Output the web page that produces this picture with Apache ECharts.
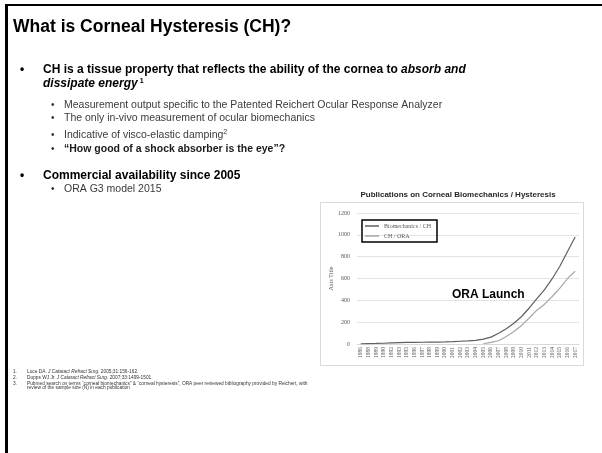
<!DOCTYPE html>
<html>
<head>
<meta charset="utf-8">
<script src="https://cdn.jsdelivr.net/npm/echarts@6/dist/echarts.min.js"></script>
<style>
  html, body { margin: 0; padding: 0; background: #fff; }
  #slide { width: 602px; height: 453px; }
</style>
</head>
<body>
<div id="slide"></div>
<script>
// publication counts
var years = ['1986','1988','1989','1990','1992','1993','1995','1996','1997','1998','1999','2000','2001','2002','2003',
    '2004','2005','2006','2007','2008','2009','2010','2011','2012','2013','2014','2015','2016','2017'];
var biomechCH = [2,4,5,7,10,12,14,15,16,17,18,19,21,25,28,33,45,63,98,140,190,252,330,415,498,598,712,848,980];
var chORA = [null,null,null,null,null,null,null,null,null,null,null,null,null,null,null,null,
    2,15,30,68,115,170,238,310,365,435,512,600,668];
var seriesNames = ['Biomechanics / CH', 'CH / ORA'];
var yTicks = {min: 0, max: 1200, step: 200};

var FONT = '"Liberation Sans", Arial, sans-serif';
var CHART_FONT = '"Liberation Serif", serif';

var myChart = echarts.init(document.getElementById('slide'));

// slide texts
var graphics = [
    {type: 'rect', shape: {x: 5, y: 4, width: 3, height: 449}, style: {fill: '#000'}},
    {type: 'rect', shape: {x: 5, y: 4, width: 597, height: 2}, style: {fill: '#000'}},
    {type: 'rect', shape: {x: 320.5, y: 202.5, width: 263, height: 163}, style: {fill: 'none', stroke: '#d9d9d9', lineWidth: 1}},
    {type: 'text', x: 13, y: 27, style: {text: 'What is Corneal Hysteresis (CH)?', font: 'bold 17.5px ' + FONT, fill: '#000', verticalAlign: 'middle'}},

    {type: 'text', x: 20, y: 69.5, style: {text: '•', font: 'bold 12px ' + FONT, fill: '#000', verticalAlign: 'middle'}},
    {type: 'text', x: 43, y: 69.5, style: {
        text: '{b|CH is a tissue property that reflects the ability of the cornea to }{bi|absorb and}',
        verticalAlign: 'middle',
        rich: {
            b: {font: 'bold 12px ' + FONT, fill: '#000'},
            bi: {font: 'italic bold 12px ' + FONT, fill: '#000'}
        }
    }},
    {type: 'text', x: 43, y: 84, style: {
        text: '{bi|dissipate energy}{sup|1}',
        verticalAlign: 'middle',
        rich: {
            bi: {font: 'italic bold 12px ' + FONT, fill: '#000'},
            sup: {font: 'bold 7px ' + FONT, fill: '#000', verticalAlign: 'top', padding: [0, 0, 6, 2]}
        }
    }},

    {type: 'text', x: 43, y: 175.5, style: {text: 'Commercial availability since 2005', font: 'bold 12px ' + FONT, fill: '#000', verticalAlign: 'middle'}},
    {type: 'text', x: 20, y: 175.5, style: {text: '•', font: 'bold 12px ' + FONT, fill: '#000', verticalAlign: 'middle'}},

    {type: 'text', x: 452, y: 295, style: {text: 'ORA Launch', font: 'bold 12px ' + FONT, fill: '#000', verticalAlign: 'middle'}}
];

var subBullets = [
    {y: 105.5, text: '{r|Measurement output specific to the Patented Reichert Ocular Response Analyzer}'},
    {y: 118.5, text: '{r|The only in-vivo measurement of ocular biomechanics}'},
    {y: 135, text: '{r|Indicative of visco-elastic damping}{sup|2}'},
    {y: 149.5, text: '{b|\u201cHow good of a shock absorber is the eye\u201d?}'},
    {y: 189, text: '{r|ORA G3 model 2015}'}
];
subBullets.forEach(function (item) {
    graphics.push({type: 'text', x: 51, y: item.y, style: {text: '•', font: '10px ' + FONT, fill: '#333', verticalAlign: 'middle'}});
    graphics.push({type: 'text', x: 64, y: item.y, style: {
        text: item.text,
        verticalAlign: 'middle',
        rich: {
            r: {font: '10.5px ' + FONT, fill: '#3a3a3a'},
            b: {font: 'bold 10.5px ' + FONT, fill: '#1a1a1a'},
            sup: {font: '7px ' + FONT, fill: '#3a3a3a', verticalAlign: 'top', padding: [0, 0, 5, 0]}
        }
    }});
});

var footnotes = [
    {y: 372, num: '1.', text: '{r|Luce DA. }{i|J Cataract Refract Surg.}{r| 2005;31:156-162.}'},
    {y: 378, num: '2.', text: '{r|Dupps WJ Jr. }{i|J Cataract Refract Surg.}{r| 2007;33:1499-1501.}'},
    {y: 383.5, num: '3.', text: '{r|Pubmed search on terms \u201ccorneal biomechanics\u201d & \u201ccorneal hysteresis\u201d, ORA peer reviewed bibliography provided by Reichert, with}'},
    {y: 388, num: '', text: '{r|review of the sample size (N) in each publication}'}
];
footnotes.forEach(function (item) {
    if (item.num) {
        graphics.push({type: 'text', x: 13, y: item.y, style: {text: item.num, font: '4.8px ' + FONT, fill: '#333', verticalAlign: 'middle'}});
    }
    graphics.push({type: 'text', x: 27, y: item.y, style: {
        text: item.text,
        verticalAlign: 'middle',
        rich: {
            r: {font: '4.8px ' + FONT, fill: '#333'},
            i: {font: 'italic 4.8px ' + FONT, fill: '#333'}
        }
    }});
});

var option = {
    animation: false,
    backgroundColor: '#fff',
    color: ['#5f5f5f', '#a6a6a6'],
    title: {
        text: 'Publications on Corneal Biomechanics / Hysteresis',
        left: 458,
        top: 191,
        textAlign: 'center',
        padding: 0,
        textStyle: {fontFamily: FONT, fontSize: 8, fontWeight: 'bold', color: '#262626'}
    },
    legend: {
        data: seriesNames,
        orient: 'vertical',
        left: 362,
        top: 220,
        padding: [3, 6, 3, 3],
        itemGap: 4,
        itemWidth: 14,
        itemHeight: 1.5,
        icon: 'rect',
        borderColor: '#000',
        borderWidth: 1.5,
        borderRadius: 0,
        textStyle: {fontFamily: CHART_FONT, fontSize: 6, color: '#595959'}
    },
    grid: {
        left: 357,
        right: 23,
        top: 213,
        bottom: 109,
        containLabel: false,
        outerBoundsMode: 'none'
    },
    xAxis: {
        type: 'category',
        data: years,
        axisLine: {lineStyle: {color: '#d9d9d9'}},
        axisTick: {show: false},
        axisLabel: {
            interval: 0,
            rotate: 90,
            margin: 3,
            fontFamily: CHART_FONT,
            fontSize: 5.5,
            color: '#595959'
        }
    },
    yAxis: {
        type: 'value',
        min: yTicks.min,
        max: yTicks.max,
        interval: yTicks.step,
        name: 'Axis Title',
        nameLocation: 'middle',
        nameGap: 19,
        nameRotate: 90,
        nameTextStyle: {fontFamily: CHART_FONT, fontSize: 6, color: '#595959'},
        axisLine: {show: false},
        axisTick: {show: false},
        axisLabel: {
            margin: 7,
            fontFamily: CHART_FONT,
            fontSize: 6,
            color: '#595959',
            formatter: function (v) { return String(v); }
        },
        splitLine: {lineStyle: {color: '#e3e3e3', width: 1}}
    },
    series: [
        {name: seriesNames[0], type: 'line', data: biomechCH, symbol: 'none', lineStyle: {width: 1.2}},
        {name: seriesNames[1], type: 'line', data: chORA, symbol: 'none', lineStyle: {width: 1.2}}
    ],
    graphic: graphics
};

myChart.setOption(option);
</script>
</body>
</html>
